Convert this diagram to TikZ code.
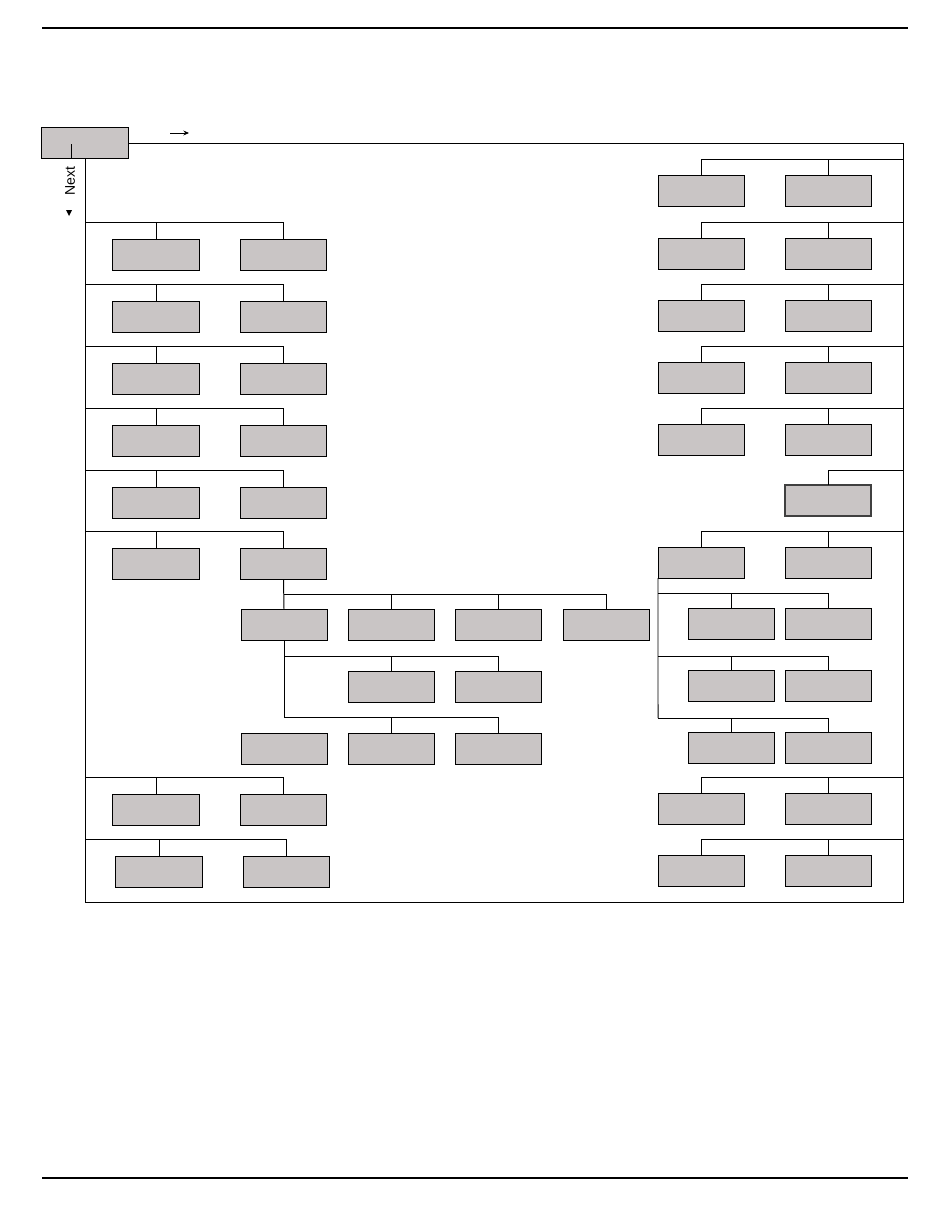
\documentclass[tikz,border=0pt]{standalone}
\usepackage{fontspec}
\setsansfont{Liberation Sans}
\usetikzlibrary{arrows.meta}
\definecolor{boxgray}{RGB}{201,197,197}
\begin{document}
\begin{tikzpicture}[x=0.025cm,y=-0.025cm,line width=0.7pt,
  box/.style={draw,fill=boxgray,minimum width=2.15cm,minimum height=0.775cm,inner sep=0pt,outer sep=0pt},
  markbox/.style={box,line width=1.2pt,draw=black!75}]
\useasboundingbox (0,0) rectangle (950,1216);
\draw[line width=1.2pt] (42,28) -- (908,28);
\draw[line width=1.2pt] (42,1178) -- (908,1178);
\node[box] (top) at (85,143) {};
\draw (71,144) -- (71,158);
\draw[-{Stealth[length=4pt,width=3.5pt]}] (170,133) -- (189,133);
\node[rotate=90,font=\sffamily] (next) at (70,181) {Next};
\fill (66,210) -- (72,210) -- (69,216) -- cycle;
\draw (top.east) -- (903,143) -- (903,902) -- (85,902) -- (top.south);
\foreach \n/\y/\dx in {1/222/0,2/284/0,3/346/0,4/408/0,5/470/0,6/531/0,7/777/0,8/839/3} {
  \coordinate (l\n) at (85,\y);
  \node[box] (a\n) at (156+\dx,\y+32.5) {};
  \node[box] (b\n) at (283.5+\dx,\y+32.5) {};
  \draw (l\n) -| (b\n.north);
  \draw (a\n.north) -- (a\n.north |- l\n);
}
\foreach \n/\y in {0/159,1/222,2/284,3/346,4/408,6/531,7/777,8/839} {
  \coordinate (r\n) at (903,\y);
  \node[box] (ra\n) at (701,\y+31.5) {};
  \node[box] (rb\n) at (828,\y+31.5) {};
  \draw (r\n) -| (ra\n.north);
  \draw (rb\n.north) -- (rb\n.north |- r\n);
}
\coordinate (r5) at (903,470);
\node[markbox] (rb5) at (828,500.5) {};
\draw (r5) -| (rb5.north);
\node[box] (m1) at (284,624.5) {};
\node[box] (m2) at (391,624.5) {};
\node[box] (m3) at (498.5,624.5) {};
\node[box] (m4) at (606,624.5) {};
\node[box] (m5) at (391,686.5) {};
\node[box] (m6) at (498.5,686.5) {};
\node[box] (m7) at (284,748.5) {};
\node[box] (m8) at (391,748.5) {};
\node[box] (m9) at (498.5,748.5) {};
\coordinate (j1) at (284,594);
\coordinate (j2) at (284,656);
\coordinate (j3) at (284,717);
\draw (b6.south) -- (m1.north);
\draw (m1.south) -- (j3) -| (m9.north);
\draw (j1) -| (m4.north);
\draw (m2.north) -- (m2.north |- j1);
\draw (m3.north) -- (m3.north |- j1);
\draw (j2) -| (m6.north);
\draw (m5.north) -- (m5.north |- j2);
\draw (m8.north) -- (m8.north |- j3);
\node[box] (c1) at (731,623.5) {};
\node[box] (d1) at (828.5,623.5) {};
\node[box] (c2) at (731,685.5) {};
\node[box] (d2) at (828.5,685.5) {};
\node[box] (c3) at (731,747.5) {};
\node[box] (d3) at (828.5,747.5) {};
\coordinate (k1) at (658,593);
\coordinate (k2) at (658,656);
\coordinate (k3) at (658,718);
\draw (ra6.south west) -- (k3);
\foreach \n in {1,2,3} {
  \draw (k\n) -| (d\n.north);
  \draw (c\n.north) -- (c\n.north |- k\n);
}
\end{tikzpicture}
\end{document}
